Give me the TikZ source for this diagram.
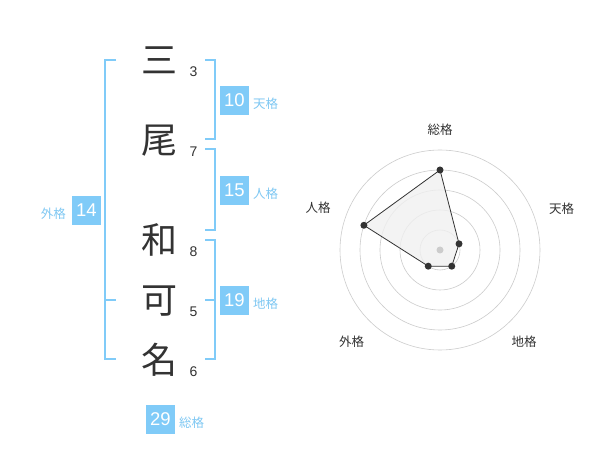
\documentclass[tikz,border=0pt]{standalone}
\usepackage{fontspec}
\usetikzlibrary{calc}
\setmainfont{Liberation Sans}
\newfontfamily\cjk{Noto Sans CJK JP}
\definecolor{lb}{HTML}{80CBF8}
\definecolor{lbt}{HTML}{7FC8F3}
\definecolor{dk}{HTML}{333333}
\definecolor{ring}{HTML}{CCCCCC}
\definecolor{area}{HTML}{F0F0F0}
\tikzset{
  kanji/.style={inner sep=0pt, text=dk, font=\cjk\fontsize{36}{36}\selectfont, text height=31.7pt, text depth=4.3pt},
  strokes/.style={anchor=base, inner sep=0pt, text=dk, font=\fontsize{14}{14}\selectfont},
  numbox/.style={fill=lb, minimum size=29pt, inner sep=0pt, text=white, font=\fontsize{18.5}{18.5}\selectfont},
  kaku/.style={inner sep=0pt, text=lbt, font=\cjk\fontsize{12.5}{12.5}\selectfont},
  brk/.style={draw=lb, line width=1.8pt},
  axislabel/.style={inner sep=0pt, text=dk, font=\cjk\fontsize{12.5}{12.5}\selectfont},
  dot/.style={circle, fill=dk, inner sep=0pt, minimum size=7pt},
}
\begin{document}
\begin{tikzpicture}[x=1pt,y=-1pt]
\useasboundingbox[fill=white] (0,0) rectangle (600,470);

% name characters
\node[kanji] (k1) at (159,60) {三};
\node[kanji] (k2) at (159,140) {尾};
\node[kanji] (k3) at (159,240) {和};
\node[kanji] (k4) at (159,300) {可};
\node[kanji] (k5) at (159,360) {名};

\node[strokes] (s1) at (193.5,77) {3};
\node[strokes] (s2) at (193.5,157) {7};
\node[strokes] (s3) at (193.5,257) {8};
\node[strokes] (s4) at (193.5,317) {5};
\node[strokes] (s5) at (193.5,377) {6};

% brackets right
\draw[brk] (205,60) -- (215,60) -- (215,139) -- (205,139);
\draw[brk] (205,149) -- (215,149) -- (215,230) -- (205,230);
\draw[brk] (205,240) -- (215,240) -- (215,359) -- (205,359);
\draw[brk] (205,300) -- (215,300);
% bracket left
\draw[brk] (116,60) -- (105,60) -- (105,359) -- (116,359);
\draw[brk] (105,300) -- (116,300);

% boxes and labels
\node[numbox] (ten) at (234.5,100.3) {10};
\node[kaku, anchor=west] (tenl) at (253,104) {天格};
\node[numbox] (jin) at (234.5,190.3) {15};
\node[kaku, anchor=west] (jinl) at (253,194) {人格};
\node[numbox] (chi) at (234.5,300.3) {19};
\node[kaku, anchor=west] (chil) at (253,304) {地格};
\node[numbox] (gai) at (86.5,210.3) {14};
\node[kaku, anchor=east] (gail) at (66,214) {外格};
\node[numbox] (sou) at (160.5,419) {29};
\node[kaku, anchor=west] (soul) at (179,423) {総格};

% radar chart
\coordinate (c) at (440,250);
\foreach \r in {20,40,60,80,100}
  \draw[ring, line width=0.6pt] (c) circle[radius=\r];
\coordinate (p1) at ($(c)+(0,-80)$);
\coordinate (p2) at ($(c)+({20*cos(18)},{-20*sin(18)})$);
\coordinate (p3) at ($(c)+({20*cos(54)},{20*sin(54)})$);
\coordinate (p4) at ($(c)+({-20*cos(54)},{20*sin(54)})$);
\coordinate (p5) at ($(c)+({-80*cos(18)},{-80*sin(18)})$);
\fill[area, fill opacity=0.8] (p1) -- (p2) -- (p3) -- (p4) -- (p5) -- cycle;
\node[circle, fill=ring, inner sep=0pt, minimum size=7pt] (cdot) at (c) {};
\draw[dk, line width=0.8pt] (p1) -- (p2) -- (p3) -- (p4) -- (p5) -- cycle;
\foreach \p in {p1,p2,p3,p4,p5}
  \node[dot] at (\p) {};

\node[axislabel] (a1) at (440,130) {総格};
\node[axislabel] (a2) at (561.7,208.3) {天格};
\node[axislabel] (a3) at (524,342) {地格};
\node[axislabel] (a4) at (351.7,342) {外格};
\node[axislabel] (a5) at (318,208) {人格};
\end{tikzpicture}
\end{document}
